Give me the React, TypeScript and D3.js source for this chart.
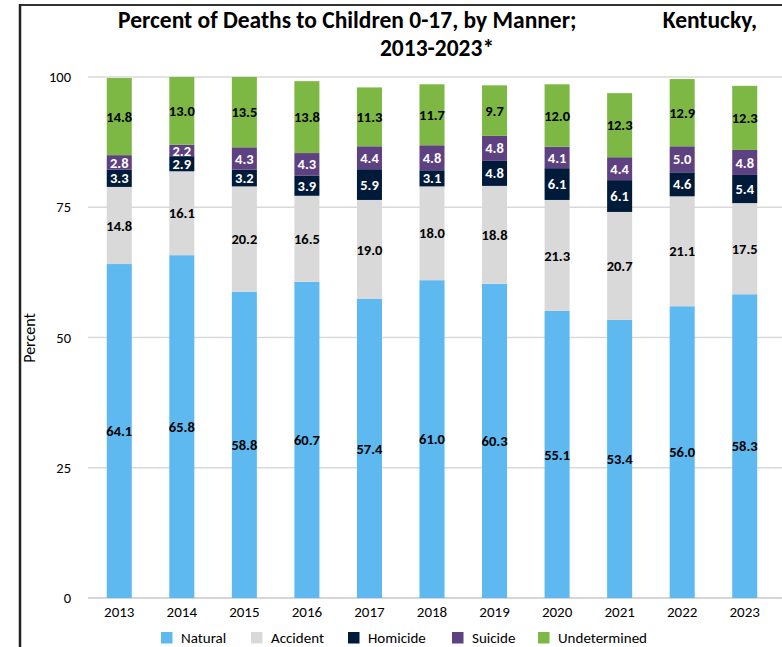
import React from "react";
import * as d3 from "d3";

const years = ["2013","2014","2015","2016","2017","2018","2019","2020","2021","2022","2023"];
const seriesNames = ["Natural","Accident","Homicide","Suicide","Undetermined"];
const natural = [64.1,65.8,58.8,60.7,57.4,61.0,60.3,55.1,53.4,56.0,58.3];
const accident = [14.8,16.1,20.2,16.5,19.0,18.0,18.8,21.3,20.7,21.1,17.5];
const homicide = [3.3,2.9,3.2,3.9,5.9,3.1,4.8,6.1,6.1,4.6,5.4];
const suicide = [2.8,2.2,4.3,4.3,4.4,4.8,4.8,4.1,4.4,5.0,4.8];
const undetermined = [14.8,13.0,13.5,13.8,11.3,11.7,9.7,12.0,12.3,12.9,12.3];
const yTicks = [0,25,50,75,100];

const colors = ["#5DB9EF","#D9D9D9","#001B3A","#5E4181","#7CB843"];
const labelColors = ["#000","#000","#fff","#fff","#000"];
const FONT = "Carlito, Lato, 'Open Sans', sans-serif";

export default function App() {
  const W = 782, H = 647;
  const x = d3.scaleBand().domain(years).range([88, 776]).paddingInner(0.6).paddingOuter(0.3);
  const y = d3.scaleLinear().domain([0, 100]).range([598, 77]);
  const rows = years.map((yr, i) => ({
    year: yr,
    Natural: natural[i], Accident: accident[i], Homicide: homicide[i],
    Suicide: suicide[i], Undetermined: undetermined[i],
  }));
  const stacked = d3.stack<any>().keys(seriesNames)(rows);
  const legendX = [161, 251, 348, 452, 538];
  const labelSize = 14.5;

  return (
    <div style={{ position: "absolute", left: 0, top: 0 }}>
      <svg width={W} height={H} style={{ display: "block", fontFamily: FONT }}>
        <rect width={W} height={H} fill="#fff" />
        <line x1={20} y1={5} x2={782} y2={5} stroke="#333" strokeWidth={2} />
        <line x1={20} y1={4} x2={20} y2={647} stroke="#222" strokeWidth={2.5} />
        <text x={118} y={28} fontSize={23.5} fontWeight="bold" fill="#000">Percent of Deaths to Children 0-17, by Manner;</text>
        <text x={757} y={28} fontSize={23.5} fontWeight="bold" fill="#000" textAnchor="end">Kentucky,</text>
        <text x={437} y={56} fontSize={23.5} fontWeight="bold" fill="#000" textAnchor="middle">2013-2023*</text>
        {yTicks.map(t => (
          <g key={t}>
            <line x1={88} x2={782} y1={y(t)} y2={y(t)} stroke={t === 0 ? "#C8C8C8" : "#D9D9D9"} strokeWidth={1.5} />
            <text x={71} y={y(t) + 5} fontSize={14.5} textAnchor="end" fill="#000">{t}</text>
          </g>
        ))}
        <text transform={`translate(35,338) rotate(-90)`} fontSize={16} textAnchor="middle" fill="#000">Percent</text>
        {stacked.map((s, si) => (
          <g key={s.key}>
            {s.map((d, i) => {
              const x0 = x(years[i])!;
              const yt = y(d[1]), yb = y(d[0]);
              return (
                <g key={i}>
                  <rect x={x0} width={x.bandwidth()} y={yt} height={yb - yt} fill={colors[si]} />
                  <text x={x0 + x.bandwidth() / 2} y={(yt + yb) / 2 + labelSize * 0.35} fontSize={labelSize} fontWeight="bold" textAnchor="middle" fill={labelColors[si]}>
                    {(d[1] - d[0]).toFixed(1)}
                  </text>
                </g>
              );
            })}
          </g>
        ))}
        {years.map(yr => (
          <text key={yr} x={x(yr)! + x.bandwidth() / 2} y={617} fontSize={15} textAnchor="middle" fill="#000">{yr}</text>
        ))}
        {seriesNames.map((n, i) => (
          <g key={n}>
            <rect x={legendX[i]} y={632} width={11.5} height={11.5} fill={colors[i]} />
            <text x={legendX[i] + 20} y={643} fontSize={15} fill="#000">{n}</text>
          </g>
        ))}
      </svg>
    </div>
  );
}
